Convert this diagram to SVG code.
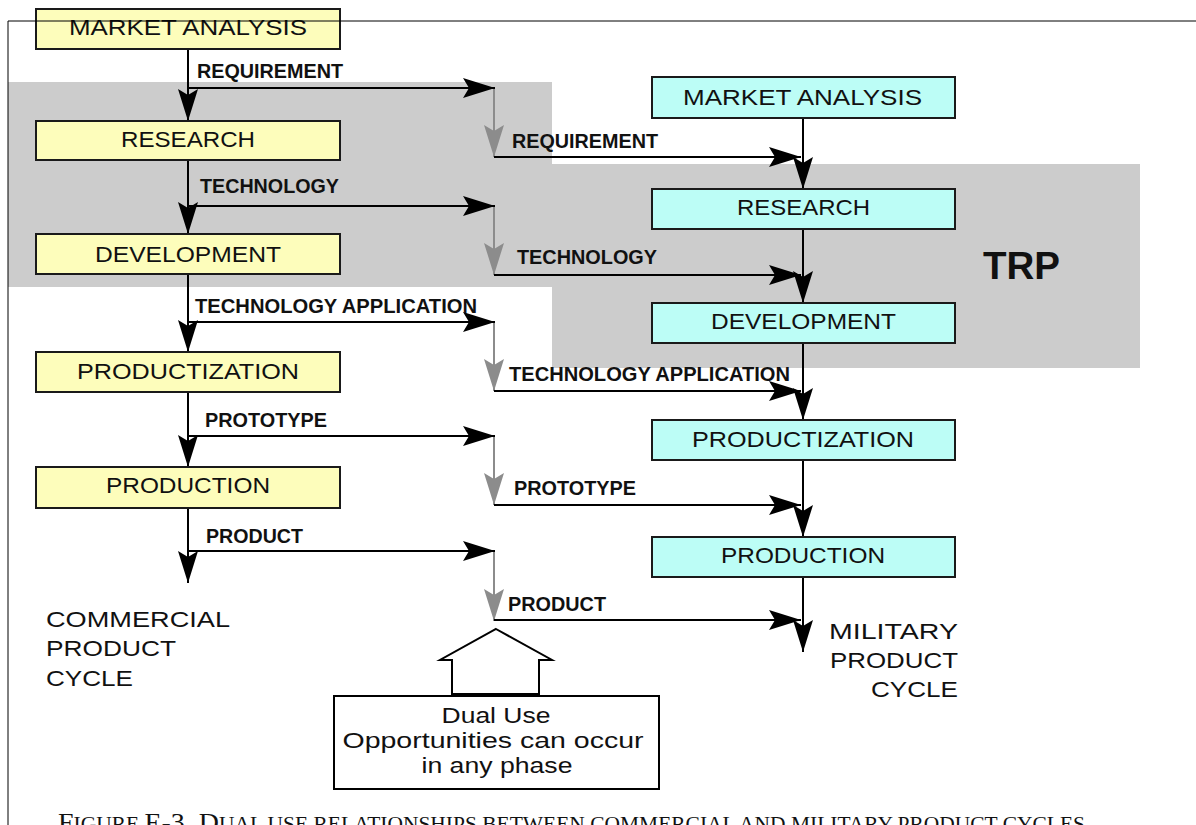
<svg xmlns="http://www.w3.org/2000/svg" width="1196" height="825" viewBox="0 0 1196 825">
  <defs>
    <marker id="ah" markerUnits="userSpaceOnUse" markerWidth="32" markerHeight="20" refX="32" refY="10" orient="auto" viewBox="0 0 32 20">
      <path d="M0,0 L32,10 L0,20 L6,10 z" fill="#000"/>
    </marker>
    <marker id="ahGray" markerUnits="userSpaceOnUse" markerWidth="32" markerHeight="20" refX="32" refY="10" orient="auto" viewBox="0 0 32 20">
      <path d="M0,0 L32,10 L0,20 L6,10 z" fill="#8c8c8c"/>
    </marker>
    <style>
      .zone { fill: #cccccc; }
      .frame { stroke: #000; stroke-width: 1; fill: none; }
      .box { stroke: #1a1a1a; stroke-width: 2; }
      .com { fill: #fdfdbb; }
      .mil { fill: #bcfdf6; }
      .lbl { font-family: "Liberation Sans", Arial, sans-serif; font-size: 22px; fill: #111; }
      .flow { font-family: "Liberation Sans", Arial, sans-serif; font-size: 20px; font-weight: bold; fill: #111; }
      .trp { font-family: "Liberation Sans", Arial, sans-serif; font-size: 39px; font-weight: bold; fill: #111; }
      .cap { font-family: "Liberation Serif", "Times New Roman", serif; fill: #111; }
      .big { font-size: 26px; }
      .sm { font-size: 20px; }
      .k { stroke: #000; stroke-width: 2; fill: none; marker-end: url(#ah); }
      .g { stroke: #8c8c8c; stroke-width: 2; fill: none; marker-end: url(#ahGray); }
    </style>
  </defs>

  <rect width="1196" height="825" fill="#fff"/>

  <!-- shaded TRP region -->
  <g id="trp-zone">
    <rect class="zone" x="8" y="82" width="544" height="205"/>
    <rect class="zone" x="552" y="164" width="588" height="204"/>
    <text class="trp" x="983" y="279" textLength="77" lengthAdjust="spacingAndGlyphs">TRP</text>
  </g>

  <!-- connectors -->
  <g id="connectors">
    <!-- commercial chain -->
    <path class="k" d="M188,49 V121"/>
    <path class="k" d="M188,160 V234"/>
    <path class="k" d="M188,274 V352"/>
    <path class="k" d="M188,392 V467"/>
    <path class="k" d="M188,508 V583"/>
    <!-- outputs to the right -->
    <path class="k" d="M188,88 H495"/>
    <path class="k" d="M188,206 H495"/>
    <path class="k" d="M188,322 H495"/>
    <path class="k" d="M188,436 H495"/>
    <path class="k" d="M188,551 H495"/>
    <!-- transfer drops -->
    <path class="g" d="M494,89 V157"/>
    <path class="g" d="M494,207 V275"/>
    <path class="g" d="M494,323 V391"/>
    <path class="g" d="M494,437 V505"/>
    <path class="g" d="M494,552 V621"/>
    <!-- feeds into the military chain -->
    <path class="k" d="M494,157 H801"/>
    <path class="k" d="M494,275 H801"/>
    <path class="k" d="M494,391 H801"/>
    <path class="k" d="M494,505 H801"/>
    <path class="k" d="M494,620 H801"/>
    <!-- military chain -->
    <path class="k" d="M803,118 V189"/>
    <path class="k" d="M803,229 V303"/>
    <path class="k" d="M803,343 V420"/>
    <path class="k" d="M803,460 V537"/>
    <path class="k" d="M803,577 V652"/>
  </g>

  <!-- flow labels -->
  <g id="flow-labels">
    <text class="flow" x="197" y="78" textLength="146" lengthAdjust="spacingAndGlyphs">REQUIREMENT</text>
    <text class="flow" x="200" y="193" textLength="139" lengthAdjust="spacingAndGlyphs">TECHNOLOGY</text>
    <text class="flow" x="195" y="313" textLength="282" lengthAdjust="spacingAndGlyphs">TECHNOLOGY APPLICATION</text>
    <text class="flow" x="205" y="427" textLength="122" lengthAdjust="spacingAndGlyphs">PROTOTYPE</text>
    <text class="flow" x="206" y="543" textLength="97" lengthAdjust="spacingAndGlyphs">PRODUCT</text>

    <text class="flow" x="512" y="148" textLength="146" lengthAdjust="spacingAndGlyphs">REQUIREMENT</text>
    <text class="flow" x="517" y="264" textLength="140" lengthAdjust="spacingAndGlyphs">TECHNOLOGY</text>
    <text class="flow" x="509" y="381" textLength="281" lengthAdjust="spacingAndGlyphs">TECHNOLOGY APPLICATION</text>
    <text class="flow" x="514" y="495" textLength="122" lengthAdjust="spacingAndGlyphs">PROTOTYPE</text>
    <text class="flow" x="508" y="611" textLength="98" lengthAdjust="spacingAndGlyphs">PRODUCT</text>
  </g>

  <!-- commercial product cycle -->
  <g id="c-market">
    <rect class="box com" x="36" y="9" width="304" height="40"/>
    <text class="lbl" x="69" y="35" textLength="238" lengthAdjust="spacingAndGlyphs">MARKET ANALYSIS</text>
  </g>
  <g id="c-research">
    <rect class="box com" x="36" y="121" width="304" height="39"/>
    <text class="lbl" x="121" y="147" textLength="134" lengthAdjust="spacingAndGlyphs">RESEARCH</text>
  </g>
  <g id="c-development">
    <rect class="box com" x="36" y="234" width="304" height="40"/>
    <text class="lbl" x="95" y="262" textLength="186" lengthAdjust="spacingAndGlyphs">DEVELOPMENT</text>
  </g>
  <g id="c-productization">
    <rect class="box com" x="36" y="352" width="304" height="40"/>
    <text class="lbl" x="77" y="379" textLength="222" lengthAdjust="spacingAndGlyphs">PRODUCTIZATION</text>
  </g>
  <g id="c-production">
    <rect class="box com" x="36" y="467" width="304" height="41"/>
    <text class="lbl" x="106" y="493" textLength="164" lengthAdjust="spacingAndGlyphs">PRODUCTION</text>
  </g>
  <g id="c-title">
    <text class="lbl" x="46" y="627" textLength="184" lengthAdjust="spacingAndGlyphs">COMMERCIAL</text>
    <text class="lbl" x="46" y="656" textLength="130" lengthAdjust="spacingAndGlyphs">PRODUCT</text>
    <text class="lbl" x="46" y="686" textLength="87" lengthAdjust="spacingAndGlyphs">CYCLE</text>
  </g>

  <!-- military product cycle -->
  <g id="m-market">
    <rect class="box mil" x="652" y="77" width="303" height="41"/>
    <text class="lbl" x="683" y="105" textLength="239" lengthAdjust="spacingAndGlyphs">MARKET ANALYSIS</text>
  </g>
  <g id="m-research">
    <rect class="box mil" x="652" y="189" width="303" height="40"/>
    <text class="lbl" x="737" y="215" textLength="133" lengthAdjust="spacingAndGlyphs">RESEARCH</text>
  </g>
  <g id="m-development">
    <rect class="box mil" x="652" y="303" width="303" height="40"/>
    <text class="lbl" x="711" y="329" textLength="185" lengthAdjust="spacingAndGlyphs">DEVELOPMENT</text>
  </g>
  <g id="m-productization">
    <rect class="box mil" x="652" y="420" width="303" height="40"/>
    <text class="lbl" x="692" y="447" textLength="222" lengthAdjust="spacingAndGlyphs">PRODUCTIZATION</text>
  </g>
  <g id="m-production">
    <rect class="box mil" x="652" y="537" width="303" height="40"/>
    <text class="lbl" x="721" y="563" textLength="164" lengthAdjust="spacingAndGlyphs">PRODUCTION</text>
  </g>
  <g id="m-title">
    <text class="lbl" x="958" y="639" text-anchor="end" textLength="129" lengthAdjust="spacingAndGlyphs">MILITARY</text>
    <text class="lbl" x="958" y="668" text-anchor="end" textLength="128" lengthAdjust="spacingAndGlyphs">PRODUCT</text>
    <text class="lbl" x="958" y="697" text-anchor="end" textLength="87" lengthAdjust="spacingAndGlyphs">CYCLE</text>
  </g>

  <!-- dual use callout -->
  <g id="dual-use">
    <polygon points="496,629 552,660 539,660 539,694 452,694 452,660 440,660" fill="#fff" stroke="#000" stroke-width="2" stroke-linejoin="miter"/>
    <rect x="334" y="696" width="325" height="93" fill="#fff" stroke="#000" stroke-width="2"/>
    <text class="lbl" x="496" y="723" text-anchor="middle" textLength="109" lengthAdjust="spacingAndGlyphs">Dual Use</text>
    <text class="lbl" x="493" y="748" text-anchor="middle" textLength="301" lengthAdjust="spacingAndGlyphs">Opportunities can occur</text>
    <text class="lbl" x="497" y="773" text-anchor="middle" textLength="151" lengthAdjust="spacingAndGlyphs">in any phase</text>
  </g>

  <!-- page frame -->
  <g id="frame">
    <path class="frame" d="M8,825 V21 H1196"/>
  </g>

  <!-- caption -->
  <text class="cap" x="58" y="831" textLength="1027" lengthAdjust="spacingAndGlyphs"><tspan class="big">F</tspan><tspan class="sm">IGURE </tspan><tspan class="big">E-3. D</tspan><tspan class="sm">UAL USE RELATIONSHIPS BETWEEN COMMERCIAL AND MILITARY PRODUCT CYCLES</tspan></text>
</svg>
